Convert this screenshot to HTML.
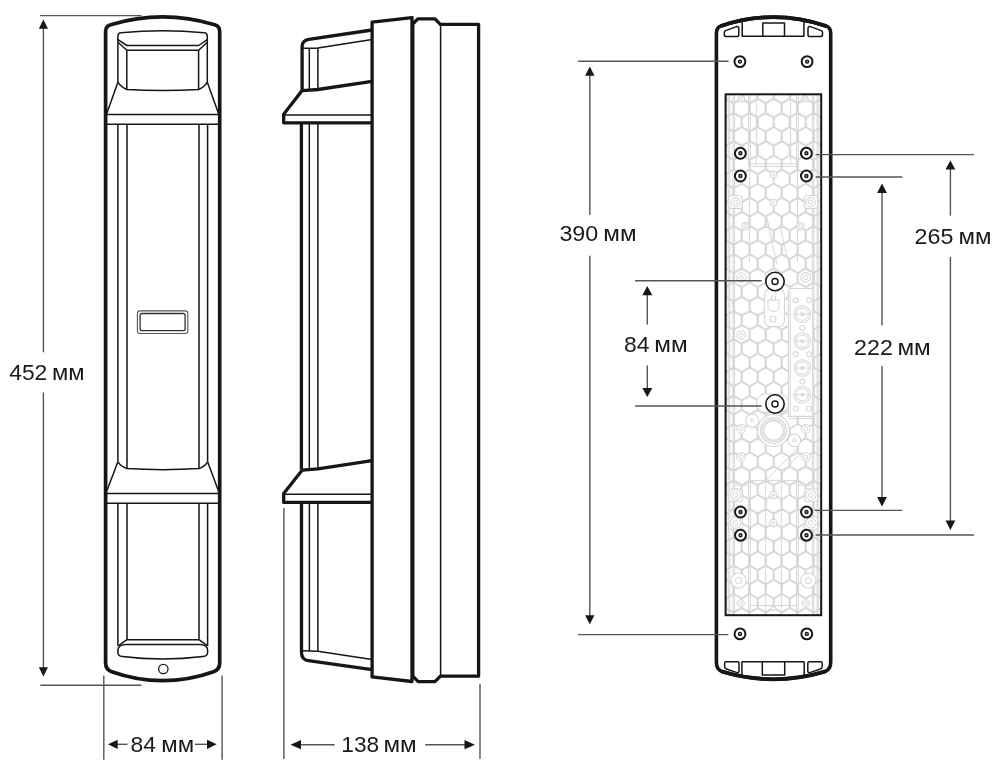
<!DOCTYPE html>
<html><head><meta charset="utf-8"><style>
html,body{margin:0;padding:0;background:#ffffff;}
svg{display:block;will-change:transform;filter:blur(0.35px);}
text{font-family:"Liberation Sans",sans-serif;fill:#1a1a1a;}
</style></head><body>
<svg width="1000" height="770" viewBox="0 0 1000 770">
<line x1="40" y1="15.6" x2="141.5" y2="15.6" stroke="#555555" stroke-width="1.4"/>
<line x1="40.4" y1="685.2" x2="141.5" y2="685.2" stroke="#555555" stroke-width="1.4"/>
<line x1="43.4" y1="27" x2="43.4" y2="352.3" stroke="#555555" stroke-width="1.4"/>
<line x1="43.4" y1="392.6" x2="43.4" y2="669" stroke="#555555" stroke-width="1.4"/>
<path d="M43.4,19.6 L38.8,28.8 L48.0,28.8 Z" fill="#161616"/>
<path d="M43.4,676.4 L38.8,667.2 L48.0,667.2 Z" fill="#161616"/>
<line x1="103.8" y1="675.6" x2="103.8" y2="759.7" stroke="#555555" stroke-width="1.4"/>
<line x1="222.1" y1="675.6" x2="222.1" y2="759.7" stroke="#555555" stroke-width="1.4"/>
<line x1="116" y1="744.3" x2="127.5" y2="744.3" stroke="#555555" stroke-width="1.4"/>
<line x1="195" y1="744.3" x2="208" y2="744.3" stroke="#555555" stroke-width="1.4"/>
<path d="M108,744.3 L117.7,739.6999999999999 L117.7,748.9 Z" fill="#161616"/>
<path d="M216.7,744.3 L207,739.6999999999999 L207,748.9 Z" fill="#161616"/>
<path d="M105.6,663 L105.6,31.5 Q105.6,26.2 110.6,24.8 A180,180 0 0 1 214.7,24.8 Q219.7,26.2 219.7,31.5 L219.7,663 Q219.7,669.5 213.5,671.8 A150,150 0 0 1 111.8,671.8 Q105.6,669.5 105.6,663 Z" fill="none" stroke="#161616" stroke-width="3.7"/>
<path d="M117.9,39.7 L117.9,36.5 Q118,33 121,32.8 Q162.6,28.6 204.3,32.8 Q207.3,33 207.3,36.5 L207.3,39.7 L198.6,45.5 L126.8,45.5 Z" fill="none" stroke="#161616" stroke-width="1.5" stroke-linejoin="round"/>
<path d="M117.9,42.3 L126.8,50.2 L198.6,50.2 L207.3,42.3" fill="none" stroke="#161616" stroke-width="1.5" stroke-linejoin="round"/>
<path d="M117.9,39 L117.9,82.2 Q121.2,87.4 126.8,89.5 Q162.6,91.6 198.6,89.5 Q204.3,87.4 207.3,82.2 L207.3,39" fill="none" stroke="#161616" stroke-width="1.5" stroke-linejoin="round"/>
<path d="M126.8,50.2 L126.8,89.4 M198.6,50.2 L198.6,89.4" fill="none" stroke="#161616" stroke-width="1.5" stroke-linejoin="round"/>
<path d="M117.9,82.2 L106.8,113.5 M207.3,82.2 L218.5,113.5" fill="none" stroke="#161616" stroke-width="1.5" stroke-linejoin="round"/>
<path d="M106.5,114.6 L218.8,114.6 M106.5,124.2 L218.8,124.2" fill="none" stroke="#161616" stroke-width="1.5" stroke-linejoin="round"/>
<path d="M117.9,124.2 L117.9,461.8 M127.0,124.2 L127.0,468.2 M199.0,124.2 L199.0,468.2 M207.6,124.2 L207.6,461.8" fill="none" stroke="#161616" stroke-width="1.5" stroke-linejoin="round"/>
<path d="M117.9,461.8 Q121.2,466.6 127.0,468.5 Q162.6,470.8 199.0,468.5 Q204.8,466.6 207.6,461.8" fill="none" stroke="#161616" stroke-width="1.5" stroke-linejoin="round"/>
<path d="M117.9,461.8 L106.8,491 M207.6,461.8 L218.5,491" fill="none" stroke="#161616" stroke-width="1.5" stroke-linejoin="round"/>
<path d="M106.5,493.5 L218.8,493.5 M106.5,503.2 L218.8,503.2" fill="none" stroke="#161616" stroke-width="1.5" stroke-linejoin="round"/>
<path d="M117.9,503.2 L117.9,646 M127.0,503.2 L127.0,639.6 M199.0,503.2 L199.0,639.6 M207.6,503.2 L207.6,646" fill="none" stroke="#161616" stroke-width="1.5" stroke-linejoin="round"/>
<path d="M127.0,639.8 L199.0,639.8" fill="none" stroke="#161616" stroke-width="1.5" stroke-linejoin="round"/>
<path d="M127.0,639.6 L118.6,645.6 M199.0,639.6 L207.2,645.6" fill="none" stroke="#161616" stroke-width="1.5" stroke-linejoin="round"/>
<path d="M125.5,644.4 L200.5,644.4 Q207.6,645 207.6,650 L207.6,652.5 Q207.6,656 203,656.5 Q162.6,661.5 122.3,656.5 Q117.9,656 117.9,652.5 L117.9,650 Q117.9,645 125.5,644.4 Z" fill="none" stroke="#161616" stroke-width="1.5" stroke-linejoin="round"/>
<circle cx="163.3" cy="669" r="4.7" fill="none" stroke="#161616" stroke-width="1.3"/>
<rect x="137.4" y="310.9" width="50.4" height="22.6" rx="2.5" fill="none" stroke="#555" stroke-width="1.1"/>
<rect x="140.1" y="313.5" width="45" height="17.2" rx="2" fill="none" stroke="#333" stroke-width="1.3"/>
<line x1="283.9" y1="507.9" x2="283.9" y2="759" stroke="#555555" stroke-width="1.4"/>
<line x1="480" y1="684" x2="480" y2="759" stroke="#555555" stroke-width="1.4"/>
<line x1="300" y1="744.7" x2="334.6" y2="744.7" stroke="#555555" stroke-width="1.4"/>
<line x1="425.2" y1="744.7" x2="466" y2="744.7" stroke="#555555" stroke-width="1.4"/>
<path d="M290.5,744.7 L301,740.1 L301,749.3000000000001 Z" fill="#161616"/>
<path d="M475,744.7 L464.5,740.1 L464.5,749.3000000000001 Z" fill="#161616"/>
<path d="M372.1,22.1 L412.0,17.6 L412.0,681.5 L372.1,676.9 Z" fill="none" stroke="#161616" stroke-width="3.3" stroke-linejoin="round"/>
<path d="M412.8,24.0 L417.8,18.9 L435,18.9 L440.3,24.3 L478.6,24.3 L478.6,676.1 L440.4,676.1 L435,681.6 L418.2,681.6 L412.8,676.1 Z" fill="none" stroke="#161616" stroke-width="3.3" stroke-linejoin="round"/>
<path d="M440.6,24.3 L440.6,676.1" fill="none" stroke="#161616" stroke-width="1.5"/>
<path d="M372.1,30 L308.8,39.4 Q302.1,40.6 302.1,46.5 L302.1,90.5 L283.7,114.3 L283.7,122.8 L372.1,122.8" fill="none" stroke="#161616" stroke-width="3.3" stroke-linejoin="round"/>
<path d="M302.1,90.6 L317.9,89.5 L372.1,81.4" fill="none" stroke="#161616" stroke-width="3.3" stroke-linejoin="round"/>
<path d="M303,48.2 L317.9,47.9 L372.1,39.4 M309.3,48 L309.3,89.8 M317.9,47.9 L317.9,89.6 M285,115.1 L372.1,115.1" fill="none" stroke="#161616" stroke-width="1.5"/>
<path d="M301.4,122.8 L301.4,469.8" fill="none" stroke="#161616" stroke-width="3.3" stroke-linejoin="round"/>
<path d="M309.3,122.8 L309.3,469 M317.9,122.8 L317.9,468.6" fill="none" stroke="#161616" stroke-width="1.5"/>
<path d="M302.1,470.2 L317.9,468.8 L372.1,460.7" fill="none" stroke="#161616" stroke-width="3.3" stroke-linejoin="round"/>
<path d="M302.1,470.2 L283.7,493.6 L283.7,502.4 L372.1,502.4" fill="none" stroke="#161616" stroke-width="3.3" stroke-linejoin="round"/>
<path d="M285,494.2 L372.1,494.2" fill="none" stroke="#161616" stroke-width="1.5"/>
<path d="M301.5,502.4 L301.5,653 Q301.8,659.8 308.3,660.6 L372.1,669.6" fill="none" stroke="#161616" stroke-width="3.3" stroke-linejoin="round"/>
<path d="M309.4,502.4 L309.4,651 M317.9,502.4 L317.9,651.2 M303,650.8 L317.9,651.2 L372.1,659.4" fill="none" stroke="#161616" stroke-width="1.5"/>
<path d="M716.4,662 L716.4,33.4 Q716.4,27.6 720.5,26.1 A165,165 0 0 1 826.5,26.1 Q830.7,27.6 830.7,33.4 L830.7,662 Q830.7,669 825.6,671.4 A180,180 0 0 1 721.4,671.4 Q716.4,669 716.4,662 Z" fill="none" stroke="#161616" stroke-width="3.6"/>
<path d="M720.5,26.1 A165,165 0 0 1 826.5,26.1" fill="none" stroke="#161616" stroke-width="3.9"/>
<path d="M825.6,671.4 A180,180 0 0 1 721.4,671.4" fill="none" stroke="#161616" stroke-width="3.8"/>
<path d="M742.2,22 L742.2,36.3 L803.9,36.3 L803.9,22 M762.8,22.6 L762.8,36.3 M784.5,22.6 L784.5,36.3 M762.8,22.9 L784.5,22.9" fill="none" stroke="#161616" stroke-width="1.5" stroke-linejoin="round"/>
<path d="M725.6,30.6 L736.5,26.6 Q738.8,26.2 738.8,28.6 L738.8,34.8 Q738.8,36.6 737,36.6 L726.6,36.6 Q724.3,36.6 724.3,34.4 L724.3,32.5 Q724.3,31.2 725.6,30.6 Z" fill="none" stroke="#161616" stroke-width="1.5" stroke-linejoin="round"/>
<path d="M821.2,30.6 L810.3,26.6 Q808,26.2 808,28.6 L808,34.8 Q808,36.6 809.8,36.6 L820.2,36.6 Q822.5,36.6 822.5,34.4 L822.5,32.5 Q822.5,31.2 821.2,30.6 Z" fill="none" stroke="#161616" stroke-width="1.5" stroke-linejoin="round"/>
<path d="M741.9,661.8 L741.9,676 M804.2,661.8 L804.2,676 M741.9,661.8 L804.2,661.8 M762.3,661.8 L762.3,675 L784.7,675 L784.7,661.8" fill="none" stroke="#161616" stroke-width="1.5" stroke-linejoin="round"/>
<path d="M726,661.8 L737.5,661.8 Q739,661.8 739,663.5 L739,671 Q739,673 737,672.6 L726.5,669 Q724.6,668.3 724.6,666.5 L724.6,663.5 Q724.6,661.8 726,661.8 Z" fill="none" stroke="#161616" stroke-width="1.5" stroke-linejoin="round"/>
<path d="M820.8,661.8 L809.3,661.8 Q807.8,661.8 807.8,663.5 L807.8,671 Q807.8,673 809.8,672.6 L820.3,669 Q822.2,668.3 822.2,666.5 L822.2,663.5 Q822.2,661.8 820.8,661.8 Z" fill="none" stroke="#161616" stroke-width="1.5" stroke-linejoin="round"/>
<clipPath id="pc"><rect x="725.6" y="94.3" width="95.60000000000002" height="520.9000000000001"/></clipPath>
<g clip-path="url(#pc)">
<rect x="725.6" y="94.3" width="95.60000000000002" height="520.9000000000001" fill="#fff"/>
<path d="M709.70,70.38 L717.87,75.09 L717.87,84.53 L709.70,89.24 L701.53,84.53 L701.53,75.09 Z M725.70,70.38 L733.87,75.09 L733.87,84.53 L725.70,89.24 L717.53,84.53 L717.53,75.09 Z M741.70,70.38 L749.87,75.09 L749.87,84.53 L741.70,89.24 L733.53,84.53 L733.53,75.09 Z M757.70,70.38 L765.87,75.09 L765.87,84.53 L757.70,89.24 L749.53,84.53 L749.53,75.09 Z M773.70,70.38 L781.87,75.09 L781.87,84.53 L773.70,89.24 L765.53,84.53 L765.53,75.09 Z M789.70,70.38 L797.87,75.09 L797.87,84.53 L789.70,89.24 L781.53,84.53 L781.53,75.09 Z M805.70,70.38 L813.87,75.09 L813.87,84.53 L805.70,89.24 L797.53,84.53 L797.53,75.09 Z M821.70,70.38 L829.87,75.09 L829.87,84.53 L821.70,89.24 L813.53,84.53 L813.53,75.09 Z M717.70,84.53 L725.87,89.24 L725.87,98.67 L717.70,103.38 L709.53,98.67 L709.53,89.24 Z M733.70,84.53 L741.87,89.24 L741.87,98.67 L733.70,103.38 L725.53,98.67 L725.53,89.24 Z M749.70,84.53 L757.87,89.24 L757.87,98.67 L749.70,103.38 L741.53,98.67 L741.53,89.24 Z M765.70,84.53 L773.87,89.24 L773.87,98.67 L765.70,103.38 L757.53,98.67 L757.53,89.24 Z M781.70,84.53 L789.87,89.24 L789.87,98.67 L781.70,103.38 L773.53,98.67 L773.53,89.24 Z M797.70,84.53 L805.87,89.24 L805.87,98.67 L797.70,103.38 L789.53,98.67 L789.53,89.24 Z M813.70,84.53 L821.87,89.24 L821.87,98.67 L813.70,103.38 L805.53,98.67 L805.53,89.24 Z M829.70,84.53 L837.87,89.24 L837.87,98.67 L829.70,103.38 L821.53,98.67 L821.53,89.24 Z M709.70,98.67 L717.87,103.38 L717.87,112.81 L709.70,117.53 L701.53,112.81 L701.53,103.38 Z M725.70,98.67 L733.87,103.38 L733.87,112.81 L725.70,117.53 L717.53,112.81 L717.53,103.38 Z M741.70,98.67 L749.87,103.38 L749.87,112.81 L741.70,117.53 L733.53,112.81 L733.53,103.38 Z M757.70,98.67 L765.87,103.38 L765.87,112.81 L757.70,117.53 L749.53,112.81 L749.53,103.38 Z M773.70,98.67 L781.87,103.38 L781.87,112.81 L773.70,117.53 L765.53,112.81 L765.53,103.38 Z M789.70,98.67 L797.87,103.38 L797.87,112.81 L789.70,117.53 L781.53,112.81 L781.53,103.38 Z M805.70,98.67 L813.87,103.38 L813.87,112.81 L805.70,117.53 L797.53,112.81 L797.53,103.38 Z M821.70,98.67 L829.87,103.38 L829.87,112.81 L821.70,117.53 L813.53,112.81 L813.53,103.38 Z M717.70,112.81 L725.87,117.53 L725.87,126.96 L717.70,131.67 L709.53,126.96 L709.53,117.53 Z M733.70,112.81 L741.87,117.53 L741.87,126.96 L733.70,131.67 L725.53,126.96 L725.53,117.53 Z M749.70,112.81 L757.87,117.53 L757.87,126.96 L749.70,131.67 L741.53,126.96 L741.53,117.53 Z M765.70,112.81 L773.87,117.53 L773.87,126.96 L765.70,131.67 L757.53,126.96 L757.53,117.53 Z M781.70,112.81 L789.87,117.53 L789.87,126.96 L781.70,131.67 L773.53,126.96 L773.53,117.53 Z M797.70,112.81 L805.87,117.53 L805.87,126.96 L797.70,131.67 L789.53,126.96 L789.53,117.53 Z M813.70,112.81 L821.87,117.53 L821.87,126.96 L813.70,131.67 L805.53,126.96 L805.53,117.53 Z M829.70,112.81 L837.87,117.53 L837.87,126.96 L829.70,131.67 L821.53,126.96 L821.53,117.53 Z M709.70,126.96 L717.87,131.67 L717.87,141.10 L709.70,145.82 L701.53,141.10 L701.53,131.67 Z M725.70,126.96 L733.87,131.67 L733.87,141.10 L725.70,145.82 L717.53,141.10 L717.53,131.67 Z M741.70,126.96 L749.87,131.67 L749.87,141.10 L741.70,145.82 L733.53,141.10 L733.53,131.67 Z M757.70,126.96 L765.87,131.67 L765.87,141.10 L757.70,145.82 L749.53,141.10 L749.53,131.67 Z M773.70,126.96 L781.87,131.67 L781.87,141.10 L773.70,145.82 L765.53,141.10 L765.53,131.67 Z M789.70,126.96 L797.87,131.67 L797.87,141.10 L789.70,145.82 L781.53,141.10 L781.53,131.67 Z M805.70,126.96 L813.87,131.67 L813.87,141.10 L805.70,145.82 L797.53,141.10 L797.53,131.67 Z M821.70,126.96 L829.87,131.67 L829.87,141.10 L821.70,145.82 L813.53,141.10 L813.53,131.67 Z M717.70,141.10 L725.87,145.82 L725.87,155.25 L717.70,159.97 L709.53,155.25 L709.53,145.82 Z M733.70,141.10 L741.87,145.82 L741.87,155.25 L733.70,159.97 L725.53,155.25 L725.53,145.82 Z M749.70,141.10 L757.87,145.82 L757.87,155.25 L749.70,159.97 L741.53,155.25 L741.53,145.82 Z M765.70,141.10 L773.87,145.82 L773.87,155.25 L765.70,159.97 L757.53,155.25 L757.53,145.82 Z M781.70,141.10 L789.87,145.82 L789.87,155.25 L781.70,159.97 L773.53,155.25 L773.53,145.82 Z M797.70,141.10 L805.87,145.82 L805.87,155.25 L797.70,159.97 L789.53,155.25 L789.53,145.82 Z M813.70,141.10 L821.87,145.82 L821.87,155.25 L813.70,159.97 L805.53,155.25 L805.53,145.82 Z M829.70,141.10 L837.87,145.82 L837.87,155.25 L829.70,159.97 L821.53,155.25 L821.53,145.82 Z M709.70,155.25 L717.87,159.97 L717.87,169.40 L709.70,174.11 L701.53,169.40 L701.53,159.97 Z M725.70,155.25 L733.87,159.97 L733.87,169.40 L725.70,174.11 L717.53,169.40 L717.53,159.97 Z M741.70,155.25 L749.87,159.97 L749.87,169.40 L741.70,174.11 L733.53,169.40 L733.53,159.97 Z M757.70,155.25 L765.87,159.97 L765.87,169.40 L757.70,174.11 L749.53,169.40 L749.53,159.97 Z M773.70,155.25 L781.87,159.97 L781.87,169.40 L773.70,174.11 L765.53,169.40 L765.53,159.97 Z M789.70,155.25 L797.87,159.97 L797.87,169.40 L789.70,174.11 L781.53,169.40 L781.53,159.97 Z M805.70,155.25 L813.87,159.97 L813.87,169.40 L805.70,174.11 L797.53,169.40 L797.53,159.97 Z M821.70,155.25 L829.87,159.97 L829.87,169.40 L821.70,174.11 L813.53,169.40 L813.53,159.97 Z M717.70,169.39 L725.87,174.11 L725.87,183.54 L717.70,188.25 L709.53,183.54 L709.53,174.11 Z M733.70,169.39 L741.87,174.11 L741.87,183.54 L733.70,188.25 L725.53,183.54 L725.53,174.11 Z M749.70,169.39 L757.87,174.11 L757.87,183.54 L749.70,188.25 L741.53,183.54 L741.53,174.11 Z M765.70,169.39 L773.87,174.11 L773.87,183.54 L765.70,188.25 L757.53,183.54 L757.53,174.11 Z M781.70,169.39 L789.87,174.11 L789.87,183.54 L781.70,188.25 L773.53,183.54 L773.53,174.11 Z M797.70,169.39 L805.87,174.11 L805.87,183.54 L797.70,188.25 L789.53,183.54 L789.53,174.11 Z M813.70,169.39 L821.87,174.11 L821.87,183.54 L813.70,188.25 L805.53,183.54 L805.53,174.11 Z M829.70,169.39 L837.87,174.11 L837.87,183.54 L829.70,188.25 L821.53,183.54 L821.53,174.11 Z M709.70,183.54 L717.87,188.25 L717.87,197.69 L709.70,202.40 L701.53,197.69 L701.53,188.25 Z M725.70,183.54 L733.87,188.25 L733.87,197.69 L725.70,202.40 L717.53,197.69 L717.53,188.25 Z M741.70,183.54 L749.87,188.25 L749.87,197.69 L741.70,202.40 L733.53,197.69 L733.53,188.25 Z M757.70,183.54 L765.87,188.25 L765.87,197.69 L757.70,202.40 L749.53,197.69 L749.53,188.25 Z M773.70,183.54 L781.87,188.25 L781.87,197.69 L773.70,202.40 L765.53,197.69 L765.53,188.25 Z M789.70,183.54 L797.87,188.25 L797.87,197.69 L789.70,202.40 L781.53,197.69 L781.53,188.25 Z M805.70,183.54 L813.87,188.25 L813.87,197.69 L805.70,202.40 L797.53,197.69 L797.53,188.25 Z M821.70,183.54 L829.87,188.25 L829.87,197.69 L821.70,202.40 L813.53,197.69 L813.53,188.25 Z M717.70,197.69 L725.87,202.40 L725.87,211.83 L717.70,216.55 L709.53,211.83 L709.53,202.40 Z M733.70,197.69 L741.87,202.40 L741.87,211.83 L733.70,216.55 L725.53,211.83 L725.53,202.40 Z M749.70,197.69 L757.87,202.40 L757.87,211.83 L749.70,216.55 L741.53,211.83 L741.53,202.40 Z M765.70,197.69 L773.87,202.40 L773.87,211.83 L765.70,216.55 L757.53,211.83 L757.53,202.40 Z M781.70,197.69 L789.87,202.40 L789.87,211.83 L781.70,216.55 L773.53,211.83 L773.53,202.40 Z M797.70,197.69 L805.87,202.40 L805.87,211.83 L797.70,216.55 L789.53,211.83 L789.53,202.40 Z M813.70,197.69 L821.87,202.40 L821.87,211.83 L813.70,216.55 L805.53,211.83 L805.53,202.40 Z M829.70,197.69 L837.87,202.40 L837.87,211.83 L829.70,216.55 L821.53,211.83 L821.53,202.40 Z M709.70,211.83 L717.87,216.54 L717.87,225.97 L709.70,230.69 L701.53,225.97 L701.53,216.54 Z M725.70,211.83 L733.87,216.54 L733.87,225.97 L725.70,230.69 L717.53,225.97 L717.53,216.54 Z M741.70,211.83 L749.87,216.54 L749.87,225.97 L741.70,230.69 L733.53,225.97 L733.53,216.54 Z M757.70,211.83 L765.87,216.54 L765.87,225.97 L757.70,230.69 L749.53,225.97 L749.53,216.54 Z M773.70,211.83 L781.87,216.54 L781.87,225.97 L773.70,230.69 L765.53,225.97 L765.53,216.54 Z M789.70,211.83 L797.87,216.54 L797.87,225.97 L789.70,230.69 L781.53,225.97 L781.53,216.54 Z M805.70,211.83 L813.87,216.54 L813.87,225.97 L805.70,230.69 L797.53,225.97 L797.53,216.54 Z M821.70,211.83 L829.87,216.54 L829.87,225.97 L821.70,230.69 L813.53,225.97 L813.53,216.54 Z M717.70,225.97 L725.87,230.69 L725.87,240.12 L717.70,244.83 L709.53,240.12 L709.53,230.69 Z M733.70,225.97 L741.87,230.69 L741.87,240.12 L733.70,244.83 L725.53,240.12 L725.53,230.69 Z M749.70,225.97 L757.87,230.69 L757.87,240.12 L749.70,244.83 L741.53,240.12 L741.53,230.69 Z M765.70,225.97 L773.87,230.69 L773.87,240.12 L765.70,244.83 L757.53,240.12 L757.53,230.69 Z M781.70,225.97 L789.87,230.69 L789.87,240.12 L781.70,244.83 L773.53,240.12 L773.53,230.69 Z M797.70,225.97 L805.87,230.69 L805.87,240.12 L797.70,244.83 L789.53,240.12 L789.53,230.69 Z M813.70,225.97 L821.87,230.69 L821.87,240.12 L813.70,244.83 L805.53,240.12 L805.53,230.69 Z M829.70,225.97 L837.87,230.69 L837.87,240.12 L829.70,244.83 L821.53,240.12 L821.53,230.69 Z M709.70,240.12 L717.87,244.83 L717.87,254.26 L709.70,258.98 L701.53,254.26 L701.53,244.83 Z M725.70,240.12 L733.87,244.83 L733.87,254.26 L725.70,258.98 L717.53,254.26 L717.53,244.83 Z M741.70,240.12 L749.87,244.83 L749.87,254.26 L741.70,258.98 L733.53,254.26 L733.53,244.83 Z M757.70,240.12 L765.87,244.83 L765.87,254.26 L757.70,258.98 L749.53,254.26 L749.53,244.83 Z M773.70,240.12 L781.87,244.83 L781.87,254.26 L773.70,258.98 L765.53,254.26 L765.53,244.83 Z M789.70,240.12 L797.87,244.83 L797.87,254.26 L789.70,258.98 L781.53,254.26 L781.53,244.83 Z M805.70,240.12 L813.87,244.83 L813.87,254.26 L805.70,258.98 L797.53,254.26 L797.53,244.83 Z M821.70,240.12 L829.87,244.83 L829.87,254.26 L821.70,258.98 L813.53,254.26 L813.53,244.83 Z M717.70,254.26 L725.87,258.98 L725.87,268.41 L717.70,273.12 L709.53,268.41 L709.53,258.98 Z M733.70,254.26 L741.87,258.98 L741.87,268.41 L733.70,273.12 L725.53,268.41 L725.53,258.98 Z M749.70,254.26 L757.87,258.98 L757.87,268.41 L749.70,273.12 L741.53,268.41 L741.53,258.98 Z M765.70,254.26 L773.87,258.98 L773.87,268.41 L765.70,273.12 L757.53,268.41 L757.53,258.98 Z M781.70,254.26 L789.87,258.98 L789.87,268.41 L781.70,273.12 L773.53,268.41 L773.53,258.98 Z M797.70,254.26 L805.87,258.98 L805.87,268.41 L797.70,273.12 L789.53,268.41 L789.53,258.98 Z M813.70,254.26 L821.87,258.98 L821.87,268.41 L813.70,273.12 L805.53,268.41 L805.53,258.98 Z M829.70,254.26 L837.87,258.98 L837.87,268.41 L829.70,273.12 L821.53,268.41 L821.53,258.98 Z M709.70,268.41 L717.87,273.13 L717.87,282.56 L709.70,287.27 L701.53,282.56 L701.53,273.13 Z M725.70,268.41 L733.87,273.13 L733.87,282.56 L725.70,287.27 L717.53,282.56 L717.53,273.13 Z M741.70,268.41 L749.87,273.13 L749.87,282.56 L741.70,287.27 L733.53,282.56 L733.53,273.13 Z M757.70,268.41 L765.87,273.13 L765.87,282.56 L757.70,287.27 L749.53,282.56 L749.53,273.13 Z M773.70,268.41 L781.87,273.13 L781.87,282.56 L773.70,287.27 L765.53,282.56 L765.53,273.13 Z M789.70,268.41 L797.87,273.13 L797.87,282.56 L789.70,287.27 L781.53,282.56 L781.53,273.13 Z M805.70,268.41 L813.87,273.13 L813.87,282.56 L805.70,287.27 L797.53,282.56 L797.53,273.13 Z M821.70,268.41 L829.87,273.13 L829.87,282.56 L821.70,287.27 L813.53,282.56 L813.53,273.13 Z M717.70,282.56 L725.87,287.27 L725.87,296.70 L717.70,301.42 L709.53,296.70 L709.53,287.27 Z M733.70,282.56 L741.87,287.27 L741.87,296.70 L733.70,301.42 L725.53,296.70 L725.53,287.27 Z M749.70,282.56 L757.87,287.27 L757.87,296.70 L749.70,301.42 L741.53,296.70 L741.53,287.27 Z M765.70,282.56 L773.87,287.27 L773.87,296.70 L765.70,301.42 L757.53,296.70 L757.53,287.27 Z M781.70,282.56 L789.87,287.27 L789.87,296.70 L781.70,301.42 L773.53,296.70 L773.53,287.27 Z M797.70,282.56 L805.87,287.27 L805.87,296.70 L797.70,301.42 L789.53,296.70 L789.53,287.27 Z M813.70,282.56 L821.87,287.27 L821.87,296.70 L813.70,301.42 L805.53,296.70 L805.53,287.27 Z M829.70,282.56 L837.87,287.27 L837.87,296.70 L829.70,301.42 L821.53,296.70 L821.53,287.27 Z M709.70,296.70 L717.87,301.42 L717.87,310.84 L709.70,315.56 L701.53,310.84 L701.53,301.42 Z M725.70,296.70 L733.87,301.42 L733.87,310.84 L725.70,315.56 L717.53,310.84 L717.53,301.42 Z M741.70,296.70 L749.87,301.42 L749.87,310.84 L741.70,315.56 L733.53,310.84 L733.53,301.42 Z M757.70,296.70 L765.87,301.42 L765.87,310.84 L757.70,315.56 L749.53,310.84 L749.53,301.42 Z M773.70,296.70 L781.87,301.42 L781.87,310.84 L773.70,315.56 L765.53,310.84 L765.53,301.42 Z M789.70,296.70 L797.87,301.42 L797.87,310.84 L789.70,315.56 L781.53,310.84 L781.53,301.42 Z M805.70,296.70 L813.87,301.42 L813.87,310.84 L805.70,315.56 L797.53,310.84 L797.53,301.42 Z M821.70,296.70 L829.87,301.42 L829.87,310.84 L821.70,315.56 L813.53,310.84 L813.53,301.42 Z M717.70,310.84 L725.87,315.56 L725.87,324.99 L717.70,329.70 L709.53,324.99 L709.53,315.56 Z M733.70,310.84 L741.87,315.56 L741.87,324.99 L733.70,329.70 L725.53,324.99 L725.53,315.56 Z M749.70,310.84 L757.87,315.56 L757.87,324.99 L749.70,329.70 L741.53,324.99 L741.53,315.56 Z M765.70,310.84 L773.87,315.56 L773.87,324.99 L765.70,329.70 L757.53,324.99 L757.53,315.56 Z M781.70,310.84 L789.87,315.56 L789.87,324.99 L781.70,329.70 L773.53,324.99 L773.53,315.56 Z M797.70,310.84 L805.87,315.56 L805.87,324.99 L797.70,329.70 L789.53,324.99 L789.53,315.56 Z M813.70,310.84 L821.87,315.56 L821.87,324.99 L813.70,329.70 L805.53,324.99 L805.53,315.56 Z M829.70,310.84 L837.87,315.56 L837.87,324.99 L829.70,329.70 L821.53,324.99 L821.53,315.56 Z M709.70,324.99 L717.87,329.70 L717.87,339.13 L709.70,343.85 L701.53,339.13 L701.53,329.70 Z M725.70,324.99 L733.87,329.70 L733.87,339.13 L725.70,343.85 L717.53,339.13 L717.53,329.70 Z M741.70,324.99 L749.87,329.70 L749.87,339.13 L741.70,343.85 L733.53,339.13 L733.53,329.70 Z M757.70,324.99 L765.87,329.70 L765.87,339.13 L757.70,343.85 L749.53,339.13 L749.53,329.70 Z M773.70,324.99 L781.87,329.70 L781.87,339.13 L773.70,343.85 L765.53,339.13 L765.53,329.70 Z M789.70,324.99 L797.87,329.70 L797.87,339.13 L789.70,343.85 L781.53,339.13 L781.53,329.70 Z M805.70,324.99 L813.87,329.70 L813.87,339.13 L805.70,343.85 L797.53,339.13 L797.53,329.70 Z M821.70,324.99 L829.87,329.70 L829.87,339.13 L821.70,343.85 L813.53,339.13 L813.53,329.70 Z M717.70,339.13 L725.87,343.85 L725.87,353.28 L717.70,358.00 L709.53,353.28 L709.53,343.85 Z M733.70,339.13 L741.87,343.85 L741.87,353.28 L733.70,358.00 L725.53,353.28 L725.53,343.85 Z M749.70,339.13 L757.87,343.85 L757.87,353.28 L749.70,358.00 L741.53,353.28 L741.53,343.85 Z M765.70,339.13 L773.87,343.85 L773.87,353.28 L765.70,358.00 L757.53,353.28 L757.53,343.85 Z M781.70,339.13 L789.87,343.85 L789.87,353.28 L781.70,358.00 L773.53,353.28 L773.53,343.85 Z M797.70,339.13 L805.87,343.85 L805.87,353.28 L797.70,358.00 L789.53,353.28 L789.53,343.85 Z M813.70,339.13 L821.87,343.85 L821.87,353.28 L813.70,358.00 L805.53,353.28 L805.53,343.85 Z M829.70,339.13 L837.87,343.85 L837.87,353.28 L829.70,358.00 L821.53,353.28 L821.53,343.85 Z M709.70,353.28 L717.87,358.00 L717.87,367.42 L709.70,372.14 L701.53,367.42 L701.53,358.00 Z M725.70,353.28 L733.87,358.00 L733.87,367.42 L725.70,372.14 L717.53,367.42 L717.53,358.00 Z M741.70,353.28 L749.87,358.00 L749.87,367.42 L741.70,372.14 L733.53,367.42 L733.53,358.00 Z M757.70,353.28 L765.87,358.00 L765.87,367.42 L757.70,372.14 L749.53,367.42 L749.53,358.00 Z M773.70,353.28 L781.87,358.00 L781.87,367.42 L773.70,372.14 L765.53,367.42 L765.53,358.00 Z M789.70,353.28 L797.87,358.00 L797.87,367.42 L789.70,372.14 L781.53,367.42 L781.53,358.00 Z M805.70,353.28 L813.87,358.00 L813.87,367.42 L805.70,372.14 L797.53,367.42 L797.53,358.00 Z M821.70,353.28 L829.87,358.00 L829.87,367.42 L821.70,372.14 L813.53,367.42 L813.53,358.00 Z M717.70,367.43 L725.87,372.14 L725.87,381.57 L717.70,386.29 L709.53,381.57 L709.53,372.14 Z M733.70,367.43 L741.87,372.14 L741.87,381.57 L733.70,386.29 L725.53,381.57 L725.53,372.14 Z M749.70,367.43 L757.87,372.14 L757.87,381.57 L749.70,386.29 L741.53,381.57 L741.53,372.14 Z M765.70,367.43 L773.87,372.14 L773.87,381.57 L765.70,386.29 L757.53,381.57 L757.53,372.14 Z M781.70,367.43 L789.87,372.14 L789.87,381.57 L781.70,386.29 L773.53,381.57 L773.53,372.14 Z M797.70,367.43 L805.87,372.14 L805.87,381.57 L797.70,386.29 L789.53,381.57 L789.53,372.14 Z M813.70,367.43 L821.87,372.14 L821.87,381.57 L813.70,386.29 L805.53,381.57 L805.53,372.14 Z M829.70,367.43 L837.87,372.14 L837.87,381.57 L829.70,386.29 L821.53,381.57 L821.53,372.14 Z M709.70,381.57 L717.87,386.29 L717.87,395.71 L709.70,400.43 L701.53,395.71 L701.53,386.29 Z M725.70,381.57 L733.87,386.29 L733.87,395.71 L725.70,400.43 L717.53,395.71 L717.53,386.29 Z M741.70,381.57 L749.87,386.29 L749.87,395.71 L741.70,400.43 L733.53,395.71 L733.53,386.29 Z M757.70,381.57 L765.87,386.29 L765.87,395.71 L757.70,400.43 L749.53,395.71 L749.53,386.29 Z M773.70,381.57 L781.87,386.29 L781.87,395.71 L773.70,400.43 L765.53,395.71 L765.53,386.29 Z M789.70,381.57 L797.87,386.29 L797.87,395.71 L789.70,400.43 L781.53,395.71 L781.53,386.29 Z M805.70,381.57 L813.87,386.29 L813.87,395.71 L805.70,400.43 L797.53,395.71 L797.53,386.29 Z M821.70,381.57 L829.87,386.29 L829.87,395.71 L821.70,400.43 L813.53,395.71 L813.53,386.29 Z M717.70,395.71 L725.87,400.43 L725.87,409.86 L717.70,414.57 L709.53,409.86 L709.53,400.43 Z M733.70,395.71 L741.87,400.43 L741.87,409.86 L733.70,414.57 L725.53,409.86 L725.53,400.43 Z M749.70,395.71 L757.87,400.43 L757.87,409.86 L749.70,414.57 L741.53,409.86 L741.53,400.43 Z M765.70,395.71 L773.87,400.43 L773.87,409.86 L765.70,414.57 L757.53,409.86 L757.53,400.43 Z M781.70,395.71 L789.87,400.43 L789.87,409.86 L781.70,414.57 L773.53,409.86 L773.53,400.43 Z M797.70,395.71 L805.87,400.43 L805.87,409.86 L797.70,414.57 L789.53,409.86 L789.53,400.43 Z M813.70,395.71 L821.87,400.43 L821.87,409.86 L813.70,414.57 L805.53,409.86 L805.53,400.43 Z M829.70,395.71 L837.87,400.43 L837.87,409.86 L829.70,414.57 L821.53,409.86 L821.53,400.43 Z M709.70,409.86 L717.87,414.57 L717.87,424.00 L709.70,428.72 L701.53,424.00 L701.53,414.57 Z M725.70,409.86 L733.87,414.57 L733.87,424.00 L725.70,428.72 L717.53,424.00 L717.53,414.57 Z M741.70,409.86 L749.87,414.57 L749.87,424.00 L741.70,428.72 L733.53,424.00 L733.53,414.57 Z M757.70,409.86 L765.87,414.57 L765.87,424.00 L757.70,428.72 L749.53,424.00 L749.53,414.57 Z M773.70,409.86 L781.87,414.57 L781.87,424.00 L773.70,428.72 L765.53,424.00 L765.53,414.57 Z M789.70,409.86 L797.87,414.57 L797.87,424.00 L789.70,428.72 L781.53,424.00 L781.53,414.57 Z M805.70,409.86 L813.87,414.57 L813.87,424.00 L805.70,428.72 L797.53,424.00 L797.53,414.57 Z M821.70,409.86 L829.87,414.57 L829.87,424.00 L821.70,428.72 L813.53,424.00 L813.53,414.57 Z M717.70,424.00 L725.87,428.72 L725.87,438.15 L717.70,442.86 L709.53,438.15 L709.53,428.72 Z M733.70,424.00 L741.87,428.72 L741.87,438.15 L733.70,442.86 L725.53,438.15 L725.53,428.72 Z M749.70,424.00 L757.87,428.72 L757.87,438.15 L749.70,442.86 L741.53,438.15 L741.53,428.72 Z M765.70,424.00 L773.87,428.72 L773.87,438.15 L765.70,442.86 L757.53,438.15 L757.53,428.72 Z M781.70,424.00 L789.87,428.72 L789.87,438.15 L781.70,442.86 L773.53,438.15 L773.53,428.72 Z M797.70,424.00 L805.87,428.72 L805.87,438.15 L797.70,442.86 L789.53,438.15 L789.53,428.72 Z M813.70,424.00 L821.87,428.72 L821.87,438.15 L813.70,442.86 L805.53,438.15 L805.53,428.72 Z M829.70,424.00 L837.87,428.72 L837.87,438.15 L829.70,442.86 L821.53,438.15 L821.53,428.72 Z M709.70,438.15 L717.87,442.87 L717.87,452.30 L709.70,457.01 L701.53,452.30 L701.53,442.87 Z M725.70,438.15 L733.87,442.87 L733.87,452.30 L725.70,457.01 L717.53,452.30 L717.53,442.87 Z M741.70,438.15 L749.87,442.87 L749.87,452.30 L741.70,457.01 L733.53,452.30 L733.53,442.87 Z M757.70,438.15 L765.87,442.87 L765.87,452.30 L757.70,457.01 L749.53,452.30 L749.53,442.87 Z M773.70,438.15 L781.87,442.87 L781.87,452.30 L773.70,457.01 L765.53,452.30 L765.53,442.87 Z M789.70,438.15 L797.87,442.87 L797.87,452.30 L789.70,457.01 L781.53,452.30 L781.53,442.87 Z M805.70,438.15 L813.87,442.87 L813.87,452.30 L805.70,457.01 L797.53,452.30 L797.53,442.87 Z M821.70,438.15 L829.87,442.87 L829.87,452.30 L821.70,457.01 L813.53,452.30 L813.53,442.87 Z M717.70,452.30 L725.87,457.01 L725.87,466.44 L717.70,471.16 L709.53,466.44 L709.53,457.01 Z M733.70,452.30 L741.87,457.01 L741.87,466.44 L733.70,471.16 L725.53,466.44 L725.53,457.01 Z M749.70,452.30 L757.87,457.01 L757.87,466.44 L749.70,471.16 L741.53,466.44 L741.53,457.01 Z M765.70,452.30 L773.87,457.01 L773.87,466.44 L765.70,471.16 L757.53,466.44 L757.53,457.01 Z M781.70,452.30 L789.87,457.01 L789.87,466.44 L781.70,471.16 L773.53,466.44 L773.53,457.01 Z M797.70,452.30 L805.87,457.01 L805.87,466.44 L797.70,471.16 L789.53,466.44 L789.53,457.01 Z M813.70,452.30 L821.87,457.01 L821.87,466.44 L813.70,471.16 L805.53,466.44 L805.53,457.01 Z M829.70,452.30 L837.87,457.01 L837.87,466.44 L829.70,471.16 L821.53,466.44 L821.53,457.01 Z M709.70,466.44 L717.87,471.16 L717.87,480.58 L709.70,485.30 L701.53,480.58 L701.53,471.16 Z M725.70,466.44 L733.87,471.16 L733.87,480.58 L725.70,485.30 L717.53,480.58 L717.53,471.16 Z M741.70,466.44 L749.87,471.16 L749.87,480.58 L741.70,485.30 L733.53,480.58 L733.53,471.16 Z M757.70,466.44 L765.87,471.16 L765.87,480.58 L757.70,485.30 L749.53,480.58 L749.53,471.16 Z M773.70,466.44 L781.87,471.16 L781.87,480.58 L773.70,485.30 L765.53,480.58 L765.53,471.16 Z M789.70,466.44 L797.87,471.16 L797.87,480.58 L789.70,485.30 L781.53,480.58 L781.53,471.16 Z M805.70,466.44 L813.87,471.16 L813.87,480.58 L805.70,485.30 L797.53,480.58 L797.53,471.16 Z M821.70,466.44 L829.87,471.16 L829.87,480.58 L821.70,485.30 L813.53,480.58 L813.53,471.16 Z M717.70,480.58 L725.87,485.30 L725.87,494.73 L717.70,499.44 L709.53,494.73 L709.53,485.30 Z M733.70,480.58 L741.87,485.30 L741.87,494.73 L733.70,499.44 L725.53,494.73 L725.53,485.30 Z M749.70,480.58 L757.87,485.30 L757.87,494.73 L749.70,499.44 L741.53,494.73 L741.53,485.30 Z M765.70,480.58 L773.87,485.30 L773.87,494.73 L765.70,499.44 L757.53,494.73 L757.53,485.30 Z M781.70,480.58 L789.87,485.30 L789.87,494.73 L781.70,499.44 L773.53,494.73 L773.53,485.30 Z M797.70,480.58 L805.87,485.30 L805.87,494.73 L797.70,499.44 L789.53,494.73 L789.53,485.30 Z M813.70,480.58 L821.87,485.30 L821.87,494.73 L813.70,499.44 L805.53,494.73 L805.53,485.30 Z M829.70,480.58 L837.87,485.30 L837.87,494.73 L829.70,499.44 L821.53,494.73 L821.53,485.30 Z M709.70,494.73 L717.87,499.44 L717.87,508.87 L709.70,513.59 L701.53,508.87 L701.53,499.44 Z M725.70,494.73 L733.87,499.44 L733.87,508.87 L725.70,513.59 L717.53,508.87 L717.53,499.44 Z M741.70,494.73 L749.87,499.44 L749.87,508.87 L741.70,513.59 L733.53,508.87 L733.53,499.44 Z M757.70,494.73 L765.87,499.44 L765.87,508.87 L757.70,513.59 L749.53,508.87 L749.53,499.44 Z M773.70,494.73 L781.87,499.44 L781.87,508.87 L773.70,513.59 L765.53,508.87 L765.53,499.44 Z M789.70,494.73 L797.87,499.44 L797.87,508.87 L789.70,513.59 L781.53,508.87 L781.53,499.44 Z M805.70,494.73 L813.87,499.44 L813.87,508.87 L805.70,513.59 L797.53,508.87 L797.53,499.44 Z M821.70,494.73 L829.87,499.44 L829.87,508.87 L821.70,513.59 L813.53,508.87 L813.53,499.44 Z M717.70,508.87 L725.87,513.59 L725.87,523.02 L717.70,527.73 L709.53,523.02 L709.53,513.59 Z M733.70,508.87 L741.87,513.59 L741.87,523.02 L733.70,527.73 L725.53,523.02 L725.53,513.59 Z M749.70,508.87 L757.87,513.59 L757.87,523.02 L749.70,527.73 L741.53,523.02 L741.53,513.59 Z M765.70,508.87 L773.87,513.59 L773.87,523.02 L765.70,527.73 L757.53,523.02 L757.53,513.59 Z M781.70,508.87 L789.87,513.59 L789.87,523.02 L781.70,527.73 L773.53,523.02 L773.53,513.59 Z M797.70,508.87 L805.87,513.59 L805.87,523.02 L797.70,527.73 L789.53,523.02 L789.53,513.59 Z M813.70,508.87 L821.87,513.59 L821.87,523.02 L813.70,527.73 L805.53,523.02 L805.53,513.59 Z M829.70,508.87 L837.87,513.59 L837.87,523.02 L829.70,527.73 L821.53,523.02 L821.53,513.59 Z M709.70,523.02 L717.87,527.73 L717.87,537.16 L709.70,541.88 L701.53,537.16 L701.53,527.73 Z M725.70,523.02 L733.87,527.73 L733.87,537.16 L725.70,541.88 L717.53,537.16 L717.53,527.73 Z M741.70,523.02 L749.87,527.73 L749.87,537.16 L741.70,541.88 L733.53,537.16 L733.53,527.73 Z M757.70,523.02 L765.87,527.73 L765.87,537.16 L757.70,541.88 L749.53,537.16 L749.53,527.73 Z M773.70,523.02 L781.87,527.73 L781.87,537.16 L773.70,541.88 L765.53,537.16 L765.53,527.73 Z M789.70,523.02 L797.87,527.73 L797.87,537.16 L789.70,541.88 L781.53,537.16 L781.53,527.73 Z M805.70,523.02 L813.87,527.73 L813.87,537.16 L805.70,541.88 L797.53,537.16 L797.53,527.73 Z M821.70,523.02 L829.87,527.73 L829.87,537.16 L821.70,541.88 L813.53,537.16 L813.53,527.73 Z M717.70,537.17 L725.87,541.88 L725.87,551.31 L717.70,556.02 L709.53,551.31 L709.53,541.88 Z M733.70,537.17 L741.87,541.88 L741.87,551.31 L733.70,556.02 L725.53,551.31 L725.53,541.88 Z M749.70,537.17 L757.87,541.88 L757.87,551.31 L749.70,556.02 L741.53,551.31 L741.53,541.88 Z M765.70,537.17 L773.87,541.88 L773.87,551.31 L765.70,556.02 L757.53,551.31 L757.53,541.88 Z M781.70,537.17 L789.87,541.88 L789.87,551.31 L781.70,556.02 L773.53,551.31 L773.53,541.88 Z M797.70,537.17 L805.87,541.88 L805.87,551.31 L797.70,556.02 L789.53,551.31 L789.53,541.88 Z M813.70,537.17 L821.87,541.88 L821.87,551.31 L813.70,556.02 L805.53,551.31 L805.53,541.88 Z M829.70,537.17 L837.87,541.88 L837.87,551.31 L829.70,556.02 L821.53,551.31 L821.53,541.88 Z M709.70,551.31 L717.87,556.02 L717.87,565.46 L709.70,570.17 L701.53,565.46 L701.53,556.02 Z M725.70,551.31 L733.87,556.02 L733.87,565.46 L725.70,570.17 L717.53,565.46 L717.53,556.02 Z M741.70,551.31 L749.87,556.02 L749.87,565.46 L741.70,570.17 L733.53,565.46 L733.53,556.02 Z M757.70,551.31 L765.87,556.02 L765.87,565.46 L757.70,570.17 L749.53,565.46 L749.53,556.02 Z M773.70,551.31 L781.87,556.02 L781.87,565.46 L773.70,570.17 L765.53,565.46 L765.53,556.02 Z M789.70,551.31 L797.87,556.02 L797.87,565.46 L789.70,570.17 L781.53,565.46 L781.53,556.02 Z M805.70,551.31 L813.87,556.02 L813.87,565.46 L805.70,570.17 L797.53,565.46 L797.53,556.02 Z M821.70,551.31 L829.87,556.02 L829.87,565.46 L821.70,570.17 L813.53,565.46 L813.53,556.02 Z M717.70,565.46 L725.87,570.17 L725.87,579.60 L717.70,584.31 L709.53,579.60 L709.53,570.17 Z M733.70,565.46 L741.87,570.17 L741.87,579.60 L733.70,584.31 L725.53,579.60 L725.53,570.17 Z M749.70,565.46 L757.87,570.17 L757.87,579.60 L749.70,584.31 L741.53,579.60 L741.53,570.17 Z M765.70,565.46 L773.87,570.17 L773.87,579.60 L765.70,584.31 L757.53,579.60 L757.53,570.17 Z M781.70,565.46 L789.87,570.17 L789.87,579.60 L781.70,584.31 L773.53,579.60 L773.53,570.17 Z M797.70,565.46 L805.87,570.17 L805.87,579.60 L797.70,584.31 L789.53,579.60 L789.53,570.17 Z M813.70,565.46 L821.87,570.17 L821.87,579.60 L813.70,584.31 L805.53,579.60 L805.53,570.17 Z M829.70,565.46 L837.87,570.17 L837.87,579.60 L829.70,584.31 L821.53,579.60 L821.53,570.17 Z M709.70,579.60 L717.87,584.31 L717.87,593.75 L709.70,598.46 L701.53,593.75 L701.53,584.31 Z M725.70,579.60 L733.87,584.31 L733.87,593.75 L725.70,598.46 L717.53,593.75 L717.53,584.31 Z M741.70,579.60 L749.87,584.31 L749.87,593.75 L741.70,598.46 L733.53,593.75 L733.53,584.31 Z M757.70,579.60 L765.87,584.31 L765.87,593.75 L757.70,598.46 L749.53,593.75 L749.53,584.31 Z M773.70,579.60 L781.87,584.31 L781.87,593.75 L773.70,598.46 L765.53,593.75 L765.53,584.31 Z M789.70,579.60 L797.87,584.31 L797.87,593.75 L789.70,598.46 L781.53,593.75 L781.53,584.31 Z M805.70,579.60 L813.87,584.31 L813.87,593.75 L805.70,598.46 L797.53,593.75 L797.53,584.31 Z M821.70,579.60 L829.87,584.31 L829.87,593.75 L821.70,598.46 L813.53,593.75 L813.53,584.31 Z M717.70,593.75 L725.87,598.46 L725.87,607.89 L717.70,612.60 L709.53,607.89 L709.53,598.46 Z M733.70,593.75 L741.87,598.46 L741.87,607.89 L733.70,612.60 L725.53,607.89 L725.53,598.46 Z M749.70,593.75 L757.87,598.46 L757.87,607.89 L749.70,612.60 L741.53,607.89 L741.53,598.46 Z M765.70,593.75 L773.87,598.46 L773.87,607.89 L765.70,612.60 L757.53,607.89 L757.53,598.46 Z M781.70,593.75 L789.87,598.46 L789.87,607.89 L781.70,612.60 L773.53,607.89 L773.53,598.46 Z M797.70,593.75 L805.87,598.46 L805.87,607.89 L797.70,612.60 L789.53,607.89 L789.53,598.46 Z M813.70,593.75 L821.87,598.46 L821.87,607.89 L813.70,612.60 L805.53,607.89 L805.53,598.46 Z M829.70,593.75 L837.87,598.46 L837.87,607.89 L829.70,612.60 L821.53,607.89 L821.53,598.46 Z M709.70,607.89 L717.87,612.60 L717.87,622.03 L709.70,626.75 L701.53,622.03 L701.53,612.60 Z M725.70,607.89 L733.87,612.60 L733.87,622.03 L725.70,626.75 L717.53,622.03 L717.53,612.60 Z M741.70,607.89 L749.87,612.60 L749.87,622.03 L741.70,626.75 L733.53,622.03 L733.53,612.60 Z M757.70,607.89 L765.87,612.60 L765.87,622.03 L757.70,626.75 L749.53,622.03 L749.53,612.60 Z M773.70,607.89 L781.87,612.60 L781.87,622.03 L773.70,626.75 L765.53,622.03 L765.53,612.60 Z M789.70,607.89 L797.87,612.60 L797.87,622.03 L789.70,626.75 L781.53,622.03 L781.53,612.60 Z M805.70,607.89 L813.87,612.60 L813.87,622.03 L805.70,626.75 L797.53,622.03 L797.53,612.60 Z M821.70,607.89 L829.87,612.60 L829.87,622.03 L821.70,626.75 L813.53,622.03 L813.53,612.60 Z" fill="none" stroke="#d8d8d8" stroke-width="1.9"/>
<path d="M728.2,94.3 L728.2,615.2 M729.8,94.3 L729.8,615.2 M733.0,94.3 L733.0,615.2 M734.5,94.3 L734.5,615.2 M812.4,94.3 L812.4,615.2 M813.9,94.3 L813.9,615.2 M817.1,94.3 L817.1,615.2 M818.7,94.3 L818.7,615.2 M748.6,94.3 L748.6,166.4 M748.6,480.4 L748.6,615.2 M750.3,94.3 L750.3,166.4 M750.3,480.4 L750.3,615.2 M796.6,94.3 L796.6,166.4 M796.6,480.4 L796.6,615.2 M798.3,94.3 L798.3,166.4 M798.3,480.4 L798.3,615.2 M749.4,166.4 L749.4,262 M797.5,166.4 L797.5,262 M756.3,94.3 L756.3,163.8 M790.6,94.3 L790.6,163.8 M748.6,163.8 L798.3,163.8 M748.6,166.4 L798.3,166.4 M765.7,480.4 L765.7,615.2 M781.3,480.4 L781.3,615.2 M748.6,480.4 L798.3,480.4 M750.3,605.5 L796.6,605.5 M734.5,485 L748.6,485 M798.3,485 L812.4,485" fill="none" stroke="#d6d6d6" stroke-width="1"/>
<rect x="728.8" y="488.7" width="13.6" height="13" rx="3.5" fill="#fff" stroke="#d6d6d6" stroke-width="1.1"/>
<rect x="728.8" y="516.5" width="13.6" height="13" rx="3.5" fill="#fff" stroke="#d6d6d6" stroke-width="1.1"/>
<rect x="804.2" y="488.7" width="13.6" height="13" rx="3.5" fill="#fff" stroke="#d6d6d6" stroke-width="1.1"/>
<rect x="804.2" y="516.5" width="13.6" height="13" rx="3.5" fill="#fff" stroke="#d6d6d6" stroke-width="1.1"/>
<rect x="728.8" y="195.5" width="13.6" height="13" rx="3.5" fill="#fff" stroke="#d6d6d6" stroke-width="1.1"/>
<rect x="804.2" y="195.5" width="13.6" height="13" rx="3.5" fill="#fff" stroke="#d6d6d6" stroke-width="1.1"/>
<circle cx="741.4" cy="98.8" r="3.2" fill="#fff" stroke="#d6d6d6" stroke-width="1.1"/><circle cx="741.4" cy="98.8" r="1.3" fill="none" stroke="#d6d6d6" stroke-width="1"/>
<circle cx="804.9" cy="98.8" r="3.2" fill="#fff" stroke="#d6d6d6" stroke-width="1.1"/><circle cx="804.9" cy="98.8" r="1.3" fill="none" stroke="#d6d6d6" stroke-width="1"/>
<circle cx="735.6" cy="202.2" r="4.6" fill="#fff" stroke="#d6d6d6" stroke-width="1.1"/><circle cx="735.6" cy="202.2" r="2.2" fill="none" stroke="#d6d6d6" stroke-width="1"/>
<circle cx="810.6" cy="202.2" r="4.6" fill="#fff" stroke="#d6d6d6" stroke-width="1.1"/><circle cx="810.6" cy="202.2" r="2.2" fill="none" stroke="#d6d6d6" stroke-width="1"/>
<circle cx="773.6" cy="174.3" r="3.4" fill="#fff" stroke="#d6d6d6" stroke-width="1.1"/><circle cx="773.6" cy="174.3" r="1.4" fill="none" stroke="#d6d6d6" stroke-width="1"/>
<circle cx="773.6" cy="202.6" r="3.4" fill="#fff" stroke="#d6d6d6" stroke-width="1.1"/><circle cx="773.6" cy="202.6" r="1.4" fill="none" stroke="#d6d6d6" stroke-width="1"/>
<circle cx="745.6" cy="226.2" r="3.6" fill="#fff" stroke="#d6d6d6" stroke-width="1.1"/><circle cx="745.6" cy="226.2" r="1.7" fill="none" stroke="#d6d6d6" stroke-width="1"/>
<circle cx="800.6" cy="226.2" r="3.6" fill="#fff" stroke="#d6d6d6" stroke-width="1.1"/><circle cx="800.6" cy="226.2" r="1.7" fill="none" stroke="#d6d6d6" stroke-width="1"/>
<circle cx="741.2" cy="277.4" r="4.6" fill="#fff" stroke="#d6d6d6" stroke-width="1.1"/><circle cx="741.2" cy="277.4" r="2.0" fill="none" stroke="#d6d6d6" stroke-width="1"/>
<circle cx="805.7" cy="277.4" r="4.8" fill="#fff" stroke="#d6d6d6" stroke-width="1.1"/><circle cx="805.7" cy="277.4" r="2.2" fill="none" stroke="#d6d6d6" stroke-width="1"/>
<circle cx="741.2" cy="334.9" r="4.2" fill="#fff" stroke="#d6d6d6" stroke-width="1.1"/><circle cx="741.2" cy="334.9" r="1.8" fill="none" stroke="#d6d6d6" stroke-width="1"/>
<circle cx="741.2" cy="428.9" r="4.3" fill="#fff" stroke="#d6d6d6" stroke-width="1.1"/><circle cx="741.2" cy="428.9" r="2.0" fill="none" stroke="#d6d6d6" stroke-width="1"/>
<circle cx="805.7" cy="428.9" r="4.3" fill="#fff" stroke="#d6d6d6" stroke-width="1.1"/><circle cx="805.7" cy="428.9" r="2.0" fill="none" stroke="#d6d6d6" stroke-width="1"/>
<circle cx="741.2" cy="457.0" r="4.3" fill="#fff" stroke="#d6d6d6" stroke-width="1.1"/><circle cx="741.2" cy="457.0" r="2.0" fill="none" stroke="#d6d6d6" stroke-width="1"/>
<circle cx="805.7" cy="457.0" r="4.3" fill="#fff" stroke="#d6d6d6" stroke-width="1.1"/><circle cx="805.7" cy="457.0" r="2.0" fill="none" stroke="#d6d6d6" stroke-width="1"/>
<circle cx="752.2" cy="420.6" r="6.6" fill="#fff" stroke="#d6d6d6" stroke-width="1.1"/><circle cx="752.2" cy="420.6" r="1.6" fill="none" stroke="#d6d6d6" stroke-width="1"/>
<circle cx="794.3" cy="440.4" r="6.4" fill="#fff" stroke="#d6d6d6" stroke-width="1.1"/><circle cx="794.3" cy="440.4" r="1.6" fill="none" stroke="#d6d6d6" stroke-width="1"/>
<circle cx="735.5" cy="495.0" r="5.2" fill="#fff" stroke="#d6d6d6" stroke-width="1.1"/><circle cx="735.5" cy="495.0" r="2.4" fill="none" stroke="#d6d6d6" stroke-width="1"/>
<circle cx="810.9" cy="495.0" r="5.2" fill="#fff" stroke="#d6d6d6" stroke-width="1.1"/><circle cx="810.9" cy="495.0" r="2.4" fill="none" stroke="#d6d6d6" stroke-width="1"/>
<circle cx="773.5" cy="495.0" r="3.6" fill="#fff" stroke="#d6d6d6" stroke-width="1.1"/><circle cx="773.5" cy="495.0" r="1.3" fill="none" stroke="#d6d6d6" stroke-width="1"/>
<circle cx="773.5" cy="523.0" r="3.6" fill="#fff" stroke="#d6d6d6" stroke-width="1.1"/><circle cx="773.5" cy="523.0" r="1.3" fill="none" stroke="#d6d6d6" stroke-width="1"/>
<circle cx="735.5" cy="523.0" r="5.2" fill="#fff" stroke="#d6d6d6" stroke-width="1.1"/><circle cx="735.5" cy="523.0" r="2.4" fill="none" stroke="#d6d6d6" stroke-width="1"/>
<circle cx="810.9" cy="523.0" r="5.2" fill="#fff" stroke="#d6d6d6" stroke-width="1.1"/><circle cx="810.9" cy="523.0" r="2.4" fill="none" stroke="#d6d6d6" stroke-width="1"/>
<circle cx="738.6" cy="580.6" r="7.6" fill="#fff" stroke="#d6d6d6" stroke-width="1.1"/><circle cx="738.6" cy="580.6" r="3.2" fill="none" stroke="#d6d6d6" stroke-width="1"/>
<circle cx="808.3" cy="580.6" r="7.6" fill="#fff" stroke="#d6d6d6" stroke-width="1.1"/><circle cx="808.3" cy="580.6" r="3.2" fill="none" stroke="#d6d6d6" stroke-width="1"/>
<circle cx="740.8" cy="603.4" r="3.6" fill="#fff" stroke="#d6d6d6" stroke-width="1.1"/><circle cx="740.8" cy="603.4" r="1.5" fill="none" stroke="#d6d6d6" stroke-width="1"/>
<circle cx="805.8" cy="603.4" r="3.6" fill="#fff" stroke="#d6d6d6" stroke-width="1.1"/><circle cx="805.8" cy="603.4" r="1.5" fill="none" stroke="#d6d6d6" stroke-width="1"/>
<circle cx="773.6" cy="608.6" r="2.2" fill="#fff" stroke="#d6d6d6" stroke-width="1.1"/>
<circle cx="773.5" cy="430.5" r="16" fill="#fff" stroke="#d6d6d6" stroke-width="1.1"/>
<circle cx="773.5" cy="430.5" r="13" fill="none" stroke="#d6d6d6" stroke-width="1.2"/>
<circle cx="773.5" cy="430.5" r="11.4" fill="none" stroke="#d6d6d6" stroke-width="1"/>
<circle cx="773.5" cy="430.5" r="9.9" fill="#fff" stroke="#d6d6d6" stroke-width="1.2"/>
<rect x="764.3" y="289" width="20.2" height="37.6" rx="6" fill="#fff" stroke="#d6d6d6" stroke-width="1.1"/>
<path d="M768,300 L779,300 L779,306 Q779,311.5 773.5,311.5 Q768,311.5 768,306 Z M771.5,296 L775.5,296 L775.5,300 L771.5,300 Z" fill="none" stroke="#d6d6d6" stroke-width="1"/>
<circle cx="773.0" cy="319.0" r="3.0" fill="#fff" stroke="#d6d6d6" stroke-width="1.1"/>
<path d="M788.3,292 Q788.3,288.5 791.8,288.5 L812.7,288.5 L812.7,416.4 L788.3,416.4 Z" fill="#fff" stroke="#d6d6d6" stroke-width="1.1"/>
<path d="M790.2,291 L790.2,416.4 M788.3,418.6 L812.7,418.6" fill="none" stroke="#d6d6d6" stroke-width="1"/>
<circle cx="795.7" cy="300.3" r="2.5" fill="#fff" stroke="#d6d6d6" stroke-width="1.1"/>
<circle cx="808.9" cy="300.3" r="2.5" fill="#fff" stroke="#d6d6d6" stroke-width="1.1"/>
<circle cx="802.3" cy="328.0" r="2.5" fill="#fff" stroke="#d6d6d6" stroke-width="1.1"/>
<circle cx="795.7" cy="354.2" r="2.5" fill="#fff" stroke="#d6d6d6" stroke-width="1.1"/>
<circle cx="808.9" cy="354.2" r="2.5" fill="#fff" stroke="#d6d6d6" stroke-width="1.1"/>
<circle cx="802.3" cy="381.5" r="2.5" fill="#fff" stroke="#d6d6d6" stroke-width="1.1"/>
<circle cx="795.7" cy="408.8" r="2.5" fill="#fff" stroke="#d6d6d6" stroke-width="1.1"/>
<circle cx="808.9" cy="408.8" r="2.5" fill="#fff" stroke="#d6d6d6" stroke-width="1.1"/>
<circle cx="802.3" cy="314.2" r="8.3" fill="#fff" stroke="#d6d6d6" stroke-width="1.1"/><circle cx="802.3" cy="314.2" r="6.2" fill="none" stroke="#d6d6d6" stroke-width="1"/>
<circle cx="802.3" cy="314.2" r="1.4" fill="none" stroke="#d6d6d6" stroke-width="1.1"/>
<path d="M795,314.2 L809.6,314.2" fill="none" stroke="#d6d6d6" stroke-width="1"/>
<circle cx="802.3" cy="341.1" r="8.3" fill="#fff" stroke="#d6d6d6" stroke-width="1.1"/><circle cx="802.3" cy="341.1" r="6.2" fill="none" stroke="#d6d6d6" stroke-width="1"/>
<circle cx="802.3" cy="341.1" r="1.4" fill="none" stroke="#d6d6d6" stroke-width="1.1"/>
<path d="M795,341.1 L809.6,341.1" fill="none" stroke="#d6d6d6" stroke-width="1"/>
<circle cx="802.3" cy="368.0" r="8.3" fill="#fff" stroke="#d6d6d6" stroke-width="1.1"/><circle cx="802.3" cy="368.0" r="6.2" fill="none" stroke="#d6d6d6" stroke-width="1"/>
<circle cx="802.3" cy="368.0" r="1.4" fill="none" stroke="#d6d6d6" stroke-width="1.1"/>
<path d="M795,368.0 L809.6,368.0" fill="none" stroke="#d6d6d6" stroke-width="1"/>
<circle cx="802.3" cy="394.7" r="8.3" fill="#fff" stroke="#d6d6d6" stroke-width="1.1"/><circle cx="802.3" cy="394.7" r="6.2" fill="none" stroke="#d6d6d6" stroke-width="1"/>
<circle cx="802.3" cy="394.7" r="1.4" fill="none" stroke="#d6d6d6" stroke-width="1.1"/>
<path d="M795,394.7 L809.6,394.7" fill="none" stroke="#d6d6d6" stroke-width="1"/>
<path d="M767,218 L777,265 M780,225 L790,270 M796.9,448.7 L765.7,480.9 M801.5,452 L781,475" fill="none" stroke="#d6d6d6" stroke-width="1"/>
</g>
<rect x="725.6" y="94.3" width="95.60000000000002" height="520.9000000000001" fill="none" stroke="#161616" stroke-width="2.0"/>
<circle cx="739.9" cy="61.6" r="5.45" fill="#fff" stroke="#161616" stroke-width="2.0"/><circle cx="739.9" cy="61.6" r="1.5" fill="#bbb" stroke="#161616" stroke-width="1.4"/>
<circle cx="807.1" cy="61.6" r="5.45" fill="#fff" stroke="#161616" stroke-width="2.0"/><circle cx="807.1" cy="61.6" r="1.5" fill="#bbb" stroke="#161616" stroke-width="1.4"/>
<circle cx="740.4" cy="153.3" r="5.45" fill="#fff" stroke="#161616" stroke-width="2.0"/><circle cx="740.4" cy="153.3" r="1.5" fill="#bbb" stroke="#161616" stroke-width="1.4"/>
<circle cx="806.4" cy="153.3" r="5.45" fill="#fff" stroke="#161616" stroke-width="2.0"/><circle cx="806.4" cy="153.3" r="1.5" fill="#bbb" stroke="#161616" stroke-width="1.4"/>
<circle cx="740.4" cy="176.0" r="5.45" fill="#fff" stroke="#161616" stroke-width="2.0"/><circle cx="740.4" cy="176.0" r="1.5" fill="#bbb" stroke="#161616" stroke-width="1.4"/>
<circle cx="806.4" cy="176.0" r="5.45" fill="#fff" stroke="#161616" stroke-width="2.0"/><circle cx="806.4" cy="176.0" r="1.5" fill="#bbb" stroke="#161616" stroke-width="1.4"/>
<circle cx="740.5" cy="512" r="5.45" fill="#fff" stroke="#161616" stroke-width="2.0"/><circle cx="740.5" cy="512" r="1.5" fill="#bbb" stroke="#161616" stroke-width="1.4"/>
<circle cx="806.5" cy="512" r="5.45" fill="#fff" stroke="#161616" stroke-width="2.0"/><circle cx="806.5" cy="512" r="1.5" fill="#bbb" stroke="#161616" stroke-width="1.4"/>
<circle cx="740.5" cy="535.2" r="5.45" fill="#fff" stroke="#161616" stroke-width="2.0"/><circle cx="740.5" cy="535.2" r="1.5" fill="#bbb" stroke="#161616" stroke-width="1.4"/>
<circle cx="806.5" cy="535.2" r="5.45" fill="#fff" stroke="#161616" stroke-width="2.0"/><circle cx="806.5" cy="535.2" r="1.5" fill="#bbb" stroke="#161616" stroke-width="1.4"/>
<circle cx="740" cy="633.9" r="5.45" fill="#fff" stroke="#161616" stroke-width="2.0"/><circle cx="740" cy="633.9" r="1.5" fill="#bbb" stroke="#161616" stroke-width="1.4"/>
<circle cx="806.8" cy="633.9" r="5.45" fill="#fff" stroke="#161616" stroke-width="2.0"/><circle cx="806.8" cy="633.9" r="1.5" fill="#bbb" stroke="#161616" stroke-width="1.4"/>
<circle cx="775.0" cy="281.5" r="9.2" fill="#fff" stroke="#161616" stroke-width="1.6"/><circle cx="775.0" cy="281.5" r="3.05" fill="#fff" stroke="#161616" stroke-width="1.4"/>
<rect x="756.5" y="394.0" width="32" height="18.5" rx="9" fill="#fff" stroke="#d6d6d6" stroke-width="1.1"/>
<circle cx="775.0" cy="404.0" r="9.2" fill="#fff" stroke="#161616" stroke-width="1.6"/><circle cx="775.0" cy="404.0" r="3.05" fill="#fff" stroke="#161616" stroke-width="1.4"/>
<line x1="578.1" y1="61.3" x2="728.6" y2="61.3" stroke="#555555" stroke-width="1.4"/>
<line x1="578" y1="634.6" x2="728.3" y2="634.6" stroke="#555555" stroke-width="1.4"/>
<line x1="589.8" y1="74" x2="589.8" y2="215" stroke="#555555" stroke-width="1.4"/>
<line x1="589.8" y1="255.8" x2="589.8" y2="616" stroke="#555555" stroke-width="1.4"/>
<path d="M589.8,66.6 L585.0999999999999,75.7 L594.5,75.7 Z" fill="#161616"/>
<path d="M589.8,624.2 L585.0999999999999,615.2 L594.5,615.2 Z" fill="#161616"/>
<line x1="635" y1="280.7" x2="761.7" y2="280.7" stroke="#555555" stroke-width="1.4"/>
<line x1="635" y1="406" x2="761.7" y2="406" stroke="#555555" stroke-width="1.4"/>
<line x1="647.3" y1="294" x2="647.3" y2="324.5" stroke="#555555" stroke-width="1.4"/>
<line x1="647.3" y1="365.5" x2="647.3" y2="389" stroke="#555555" stroke-width="1.4"/>
<path d="M647.3,286 L642.3,295.3 L652.3,295.3 Z" fill="#161616"/>
<path d="M647.3,397 L642.3,387.9 L652.3,387.9 Z" fill="#161616"/>
<line x1="815.6" y1="154.6" x2="974" y2="154.6" stroke="#555555" stroke-width="1.4"/>
<line x1="815.6" y1="177" x2="902.4" y2="177" stroke="#555555" stroke-width="1.4"/>
<line x1="815" y1="510.4" x2="902.4" y2="510.4" stroke="#555555" stroke-width="1.4"/>
<line x1="815.6" y1="535" x2="974" y2="535" stroke="#555555" stroke-width="1.4"/>
<line x1="950.4" y1="168" x2="950.4" y2="215.6" stroke="#555555" stroke-width="1.4"/>
<line x1="950.4" y1="257" x2="950.4" y2="522" stroke="#555555" stroke-width="1.4"/>
<path d="M950.4,160.4 L945.5,169.6 L955.3,169.6 Z" fill="#161616"/>
<path d="M950.4,530 L945.5,520.6 L955.3,520.6 Z" fill="#161616"/>
<line x1="882" y1="192" x2="882" y2="325.6" stroke="#555555" stroke-width="1.4"/>
<line x1="882" y1="366" x2="882" y2="498" stroke="#555555" stroke-width="1.4"/>
<path d="M882,183.6 L877.1,193 L886.9,193 Z" fill="#161616"/>
<path d="M882,506.6 L877.1,497 L886.9,497 Z" fill="#161616"/>
<text x="9.17" y="379.9" font-size="22.6" textLength="38.18" lengthAdjust="spacingAndGlyphs">452</text>
<text x="51.95" y="379.9" font-size="21.2" textLength="32.68" lengthAdjust="spacingAndGlyphs">мм</text>
<text x="130.61" y="751.6" font-size="22.6" textLength="25.47" lengthAdjust="spacingAndGlyphs">84</text>
<text x="161.24" y="751.6" font-size="21.2" textLength="32.91" lengthAdjust="spacingAndGlyphs">мм</text>
<text x="341.37" y="751.5" font-size="22.6" textLength="37.81" lengthAdjust="spacingAndGlyphs">138</text>
<text x="383.42" y="751.5" font-size="21.2" textLength="33.24" lengthAdjust="spacingAndGlyphs">мм</text>
<text x="559.41" y="241.2" font-size="22.6" textLength="38.79" lengthAdjust="spacingAndGlyphs">390</text>
<text x="603.32" y="241.2" font-size="21.2" textLength="33.24" lengthAdjust="spacingAndGlyphs">мм</text>
<text x="624.11" y="352.4" font-size="22.6" textLength="25.47" lengthAdjust="spacingAndGlyphs">84</text>
<text x="654.22" y="352.4" font-size="21.2" textLength="33.35" lengthAdjust="spacingAndGlyphs">мм</text>
<text x="914.63" y="244.4" font-size="22.6" textLength="38.85" lengthAdjust="spacingAndGlyphs">265</text>
<text x="958.54" y="244.4" font-size="21.2" textLength="33.02" lengthAdjust="spacingAndGlyphs">мм</text>
<text x="854.13" y="354.8" font-size="22.6" textLength="38.74" lengthAdjust="spacingAndGlyphs">222</text>
<text x="897.42" y="354.8" font-size="21.2" textLength="33.35" lengthAdjust="spacingAndGlyphs">мм</text>
</svg>
</body></html>
